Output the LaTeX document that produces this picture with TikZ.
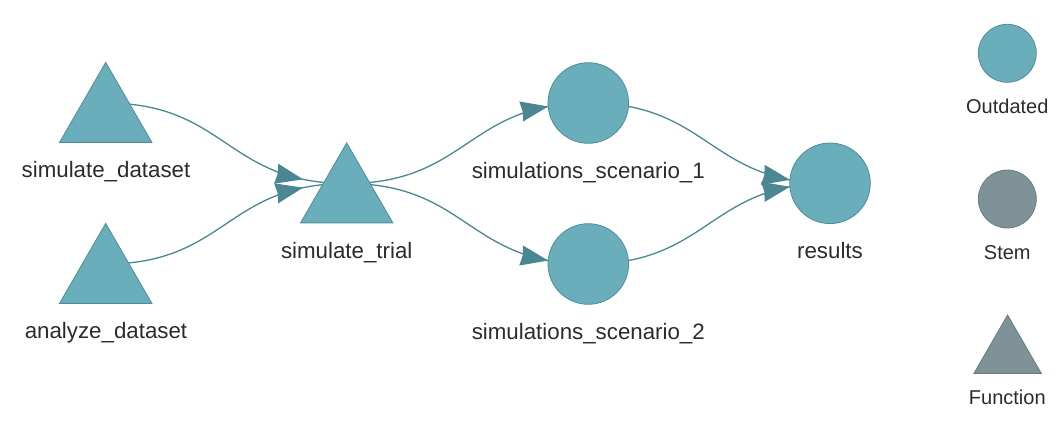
\documentclass[tikz,border=0pt]{standalone}
\usepackage{fontspec}
\setmainfont{Liberation Sans}
\usetikzlibrary{shapes.geometric,calc,backgrounds}
\definecolor{nodefill}{HTML}{6AADBB}
\definecolor{nodeline}{HTML}{4F8D99}
\definecolor{edgecol}{HTML}{4A8792}
\definecolor{stemfill}{HTML}{7F9297}
\definecolor{stemline}{HTML}{6A7C81}
\definecolor{txt}{HTML}{2B2B2B}
\tikzset{
  arrowhd/.pic={\fill[edgecol] (0,0) -- (-27.5,10.2) -- (-26,0) -- (-27.5,-10.2) -- cycle;},
  circ/.style={circle,fill=nodefill,draw=nodeline,line width=0.8pt,minimum size=80.6pt,inner sep=0pt,outer sep=0pt},
  tri/.style={regular polygon,regular polygon sides=3,fill=nodefill,draw=nodeline,line width=0.8pt,minimum size=106.6pt,inner sep=0pt,outer sep=0pt},
  lab/.style={anchor=base,text=txt,font=\fontsize{22.3}{26}\selectfont,inner sep=0pt},
  leglab/.style={anchor=base,text=txt,font=\fontsize{20}{24}\selectfont,inner sep=0pt},
  edge/.style={draw=edgecol,line width=1.3pt},
}
\begin{document}
\begin{tikzpicture}[x=1pt,y=1pt]
\useasboundingbox (0,0) rectangle (1064,-426);
% nodes
\node[tri] (sd) at (105.7,-115.7) {};
\node[tri] (ad) at (105.7,-276.7) {};
\node[tri] (st) at (346.7,-196.2) {};
\node[circ] (s1) at (588.3,-103) {};
\node[circ] (s2) at (588.3,-264) {};
\node[circ] (res) at (830,-183.3) {};
% labels
\node[lab] (lsd) at (106,-177.5) {simulate\_dataset};
\node[lab] (lad) at (106,-338.5) {analyze\_dataset};
\node[lab] (lst) at (346.7,-258.3) {simulate\_trial};
\node[lab] (ls1) at (588.3,-178) {simulations\_scenario\_1};
\node[lab] (ls2) at (588.3,-339) {simulations\_scenario\_2};
\node[lab] (lres) at (830,-258.3) {results};
% legend
\node[circ,minimum size=58pt] (lgo) at (1007.3,-53.3) {};
\node[circ,minimum size=58pt,fill=stemfill,draw=stemline] (lgs) at (1007.3,-199) {};
\node[tri,minimum size=77.8pt,fill=stemfill,draw=stemline] (lgf) at (1007.6,-353.9) {};
\node[leglab] (llgo) at (1007.3,-113.3) {Outdated};
\node[leglab] (llgs) at (1007.3,-259) {Stem};
\node[leglab] (llgf) at (1007.3,-404.3) {Function};
% edges
\begin{pgfonlayer}{background}
\draw[edge] ([yshift=12.7pt]sd.center) .. controls +(120.5,0) and +(-120.5,0) .. ([yshift=12.7pt]st.center) pic[pos=0.862,sloped]{arrowhd};
\draw[edge] ([yshift=12.7pt]ad.center) .. controls +(120.5,0) and +(-120.5,0) .. ([yshift=12.7pt]st.center) pic[pos=0.862,sloped]{arrowhd};
\draw[edge] ([yshift=12.7pt]st.center) .. controls +(120.8,0) and +(-120.8,0) .. (s1.center) pic[pos=0.875,sloped]{arrowhd};
\draw[edge] ([yshift=12.7pt]st.center) .. controls +(120.8,0) and +(-120.8,0) .. (s2.center) pic[pos=0.875,sloped]{arrowhd};
\draw[edge] (s1.center) .. controls +(120.8,0) and +(-120.8,0) .. (res.center) pic[pos=0.875,sloped]{arrowhd};
\draw[edge] (s2.center) .. controls +(120.8,0) and +(-120.8,0) .. (res.center) pic[pos=0.875,sloped]{arrowhd};
\end{pgfonlayer}
\end{tikzpicture}
\end{document}
